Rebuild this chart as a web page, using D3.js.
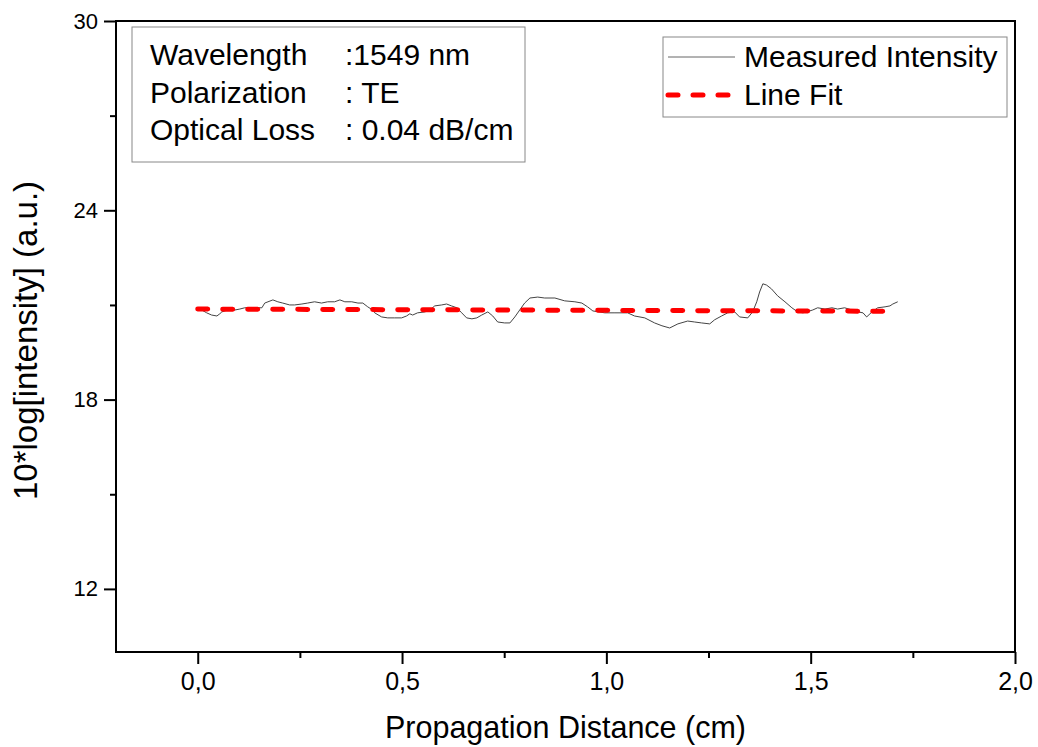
<!DOCTYPE html>
<html>
<head>
<meta charset="utf-8">
<script src="https://cdn.jsdelivr.net/npm/d3@7"></script>
<style>
  body { margin: 0; background: #fff; }
  svg { display: block; font-family: "Liberation Sans", Arial, sans-serif; }
</style>
</head>
<body>
<svg id="chart" width="1038" height="747"></svg>
<script>
// measured trace
const distance = [0, 0.022, 0.034, 0.047, 0.054, 0.059, 0.073, 0.091, 0.103, 0.115, 0.122, 0.157, 0.164, 0.184, 0.196,
  0.208, 0.225, 0.237, 0.255, 0.269, 0.286, 0.303, 0.318, 0.335, 0.348, 0.360, 0.377, 0.392, 0.404, 0.416, 0.428,
  0.433, 0.450, 0.465, 0.482, 0.499, 0.511, 0.519, 0.526, 0.538, 0.556, 0.568, 0.580, 0.597, 0.609, 0.621, 0.634,
  0.646, 0.658, 0.671, 0.683, 0.695, 0.710, 0.722, 0.734, 0.751, 0.764, 0.776, 0.788, 0.800, 0.813, 0.832, 0.849,
  0.874, 0.898, 0.923, 0.940, 0.954, 0.967, 0.996, 1.021, 1.052, 1.069, 1.094, 1.118, 1.136, 1.155, 1.175, 1.199,
  1.216, 1.233, 1.253, 1.265, 1.282, 1.297, 1.314, 1.326, 1.346, 1.358, 1.368, 1.375, 1.383, 1.392, 1.404, 1.419,
  1.437, 1.454, 1.468, 1.481, 1.490, 1.505, 1.517, 1.535, 1.552, 1.566, 1.583, 1.601, 1.615, 1.628, 1.637, 1.650,
  1.664, 1.682, 1.694, 1.701, 1.713];
const intensity = [20.91, 20.75, 20.68, 20.65, 20.72, 20.78, 20.84, 20.84, 20.87, 20.91, 20.91, 20.91, 21.06, 21.16, 21.10,
  21.06, 21.00, 21.00, 21.03, 21.06, 21.10, 21.06, 21.10, 21.10, 21.16, 21.10, 21.10, 21.06, 21.06, 20.94, 20.84,
  20.75, 20.62, 20.59, 20.59, 20.59, 20.65, 20.72, 20.68, 20.75, 20.78, 20.84, 20.97, 21.00, 21.03, 20.97, 20.91,
  20.75, 20.59, 20.56, 20.59, 20.68, 20.78, 20.65, 20.46, 20.43, 20.43, 20.62, 20.84, 21.06, 21.22, 21.25, 21.22,
  21.22, 21.13, 21.10, 21.06, 20.94, 20.81, 20.75, 20.75, 20.75, 20.65, 20.59, 20.43, 20.34, 20.27, 20.40, 20.49,
  20.46, 20.43, 20.40, 20.53, 20.65, 20.75, 20.78, 20.62, 20.59, 20.78, 21.10, 21.41, 21.67, 21.63, 21.51, 21.29,
  21.10, 20.91, 20.78, 20.75, 20.78, 20.84, 20.91, 20.87, 20.91, 20.87, 20.91, 20.84, 20.78, 20.75, 20.62, 20.78,
  20.91, 20.94, 20.97, 21.03, 21.10];

// linear fit, 0.04 dB/cm
const fitDistance = [0, 1.713];
const fitIntensity = [20.87, 20.80];

const xTicks = [0, 0.5, 1.0, 1.5, 2.0];
const xMinorTicks = [0.25, 0.75, 1.25, 1.75];
const yTicks = [12, 18, 24, 30];
const yMinorTicks = [15, 21, 27];

const infoLabels = ['Wavelength', 'Polarization', 'Optical Loss'];
const infoValues = [':1549 nm', ': TE', ': 0.04 dB/cm'];
const legendLabels = ['Measured Intensity', 'Line Fit'];

const svg = d3.select('#chart');
const plotLeft = 116, plotRight = 1015, plotTop = 21, plotBottom = 652;

const x = d3.scaleLinear().domain([-0.2, 2.0]).range([plotLeft, plotRight]);
const y = d3.scaleLinear().domain([10, 30]).range([plotBottom, plotTop]);

const comma = d3.formatLocale({ decimal: ',', thousands: '.', grouping: [3], currency: ['', ''] }).format('.1f');

// frame
svg.append('rect')
  .attr('x', plotLeft).attr('y', plotTop)
  .attr('width', plotRight - plotLeft).attr('height', plotBottom - plotTop)
  .attr('fill', 'none').attr('stroke', '#000').attr('stroke-width', 2);

function styleAxis(g, size) {
  g.select('.domain').remove();
  g.selectAll('.tick line').attr('stroke', '#000').attr('stroke-width', 2);
  g.selectAll('.tick text').attr('fill', '#000').style('font-size', size);
}

svg.append('g')
  .attr('transform', `translate(0,${plotBottom})`)
  .call(d3.axisBottom(x).tickValues(xTicks).tickFormat(comma).tickSize(12).tickPadding(8))
  .call(g => styleAxis(g, '25px'));

svg.append('g')
  .attr('transform', `translate(0,${plotBottom})`)
  .call(d3.axisBottom(x).tickValues(xMinorTicks).tickFormat('').tickSize(6))
  .call(g => styleAxis(g, '0px'));

svg.append('g')
  .attr('transform', `translate(${plotLeft},0)`)
  .call(d3.axisLeft(y).tickValues(yTicks).tickFormat(d3.format('d')).tickSize(12).tickPadding(6))
  .call(g => styleAxis(g, '22px'));

svg.append('g')
  .attr('transform', `translate(${plotLeft},0)`)
  .call(d3.axisLeft(y).tickValues(yMinorTicks).tickFormat('').tickSize(6))
  .call(g => styleAxis(g, '0px'));

// axis titles
svg.append('text')
  .attr('x', (x(-0.2) + x(2.0)) / 2).attr('y', 738)
  .attr('text-anchor', 'middle')
  .style('font-size', '30.5px')
  .text('Propagation Distance (cm)');

svg.append('text')
  .attr('transform', `translate(37,${(y(10) + y(30)) / 2 + 4}) rotate(-90)`)
  .attr('text-anchor', 'middle')
  .style('font-size', '33px')
  .text('10*log[intensity] (a.u.)');

// series
const measured = d3.zip(distance, intensity);
const fit = d3.zip(fitDistance, fitIntensity);
const line = d3.line().x(d => x(d[0])).y(d => y(d[1]));

svg.append('path')
  .datum(measured)
  .attr('d', line)
  .attr('fill', 'none')
  .attr('stroke', '#444')
  .attr('stroke-width', 1);

svg.append('path')
  .datum(fit)
  .attr('d', line)
  .attr('fill', 'none')
  .attr('stroke', '#f00')
  .attr('stroke-width', 5)
  .attr('stroke-linecap', 'round')
  .attr('stroke-dasharray', '10,15');

// info box
svg.append('rect')
  .attr('x', 132).attr('y', 27).attr('width', 393).attr('height', 135)
  .attr('fill', '#fff').attr('stroke', '#888').attr('stroke-width', 1);

infoLabels.forEach((t, i) => {
  svg.append('text').attr('x', 150).attr('y', 65 + i * 37.5)
    .style('font-size', '30px').text(t);
  svg.append('text').attr('x', 345).attr('y', 65 + i * 37.5)
    .style('font-size', '30px').text(infoValues[i]);
});

// legend
svg.append('rect')
  .attr('x', 663).attr('y', 37).attr('width', 344).attr('height', 80)
  .attr('fill', '#fff').attr('stroke', '#888').attr('stroke-width', 1);

svg.append('line')
  .attr('x1', 668).attr('x2', 735).attr('y1', 57).attr('y2', 57)
  .attr('stroke', '#666').attr('stroke-width', 1);

svg.append('line')
  .attr('x1', 668).attr('x2', 735).attr('y1', 95).attr('y2', 95)
  .attr('stroke', '#f00').attr('stroke-width', 5)
  .attr('stroke-linecap', 'round')
  .attr('stroke-dasharray', '10,15');

legendLabels.forEach((t, i) => {
  svg.append('text').attr('x', 744).attr('y', 67 + i * 38)
    .style('font-size', '30px').text(t);
});
</script>
</body>
</html>
